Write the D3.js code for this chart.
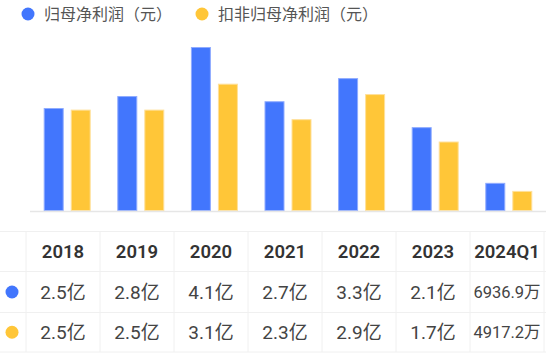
<!DOCTYPE html>
<html>
<head>
<meta charset="utf-8">
<script src="https://cdn.jsdelivr.net/npm/d3@7"></script>
<style>
  body { margin: 0; background: #fff; }
  svg { display: block; font-family: Roboto, "Noto Sans CJK SC", sans-serif; }
</style>
</head>
<body>
<div id="chart"></div>
<script>
// Data (values in 亿)
const years = ["2018", "2019", "2020", "2021", "2022", "2023", "2024Q1"];
const netProfit = [2.57, 2.87, 4.10, 2.74, 3.32, 2.09, 0.6937];
const netProfitExcl = [2.53, 2.53, 3.18, 2.29, 2.92, 1.73, 0.4917];
const netProfitLabels = ["2.5亿", "2.8亿", "4.1亿", "2.7亿", "3.3亿", "2.1亿", "6936.9万"];
const netProfitExclLabels = ["2.5亿", "2.5亿", "3.1亿", "2.3亿", "2.9亿", "1.7亿", "4917.2万"];
const seriesNames = ["归母净利润（元）", "扣非归母净利润（元）"];
const colors = ["#4276fd", "#ffc638"];
const strokes = ["#8fabff", "#ffe09a"];

const width = 550, height = 353;
const svg = d3.select("#chart").append("svg")
    .attr("width", width)
    .attr("height", height);

// Legend
const legendX = [28, 202];
const legend = svg.append("g");
seriesNames.forEach(function(name, i) {
  legend.append("circle")
    .attr("cx", legendX[i])
    .attr("cy", 14)
    .attr("r", 6.5)
    .attr("fill", colors[i]);
  legend.append("text")
    .attr("x", legendX[i] + 16)
    .attr("y", 14)
    .attr("dy", "0.36em")
    .attr("font-size", 16)
    .attr("fill", "#555")
    .text(name);
});

// Scales
const x = d3.scaleBand()
    .domain(years)
    .range([30.4, 545.6]);

const xSub = d3.scaleBand()
    .domain([0, 1])
    .range([13.3, 60.3])
    .paddingInner(0.26);

const y = d3.scaleLinear()
    .domain([0, 4.1])
    .range([210.5, 47]);

// Bars
const series = [netProfit, netProfitExcl];
series.forEach(function(values, s) {
  svg.append("g")
    .selectAll("rect")
    .data(values)
    .join("rect")
      .attr("x", (d, i) => x(years[i]) + xSub(s) + 0.5)
      .attr("y", d => y(d) + 0.5)
      .attr("width", xSub.bandwidth() - 1)
      .attr("height", d => y(0) - y(d) - 0.5)
      .attr("fill", colors[s])
      .attr("stroke", strokes[s])
      .attr("stroke-width", 1);
});

// Baseline
svg.append("line")
  .attr("x1", 30).attr("x2", 546)
  .attr("y1", 211.5).attr("y2", 211.5)
  .attr("stroke", "#e6e6e6")
  .attr("stroke-width", 1.5);

// Table
const colX = d3.scaleBand()
    .domain(years)
    .range([26, 544]);
const rowY = [231.5, 271.5, 312.5, 352];
const table = svg.append("g");
const lineColor = "#f0f0f0";

rowY.forEach(function(yy) {
  table.append("line")
    .attr("x1", 0).attr("x2", 546)
    .attr("y1", yy).attr("y2", yy)
    .attr("stroke", lineColor);
});
colX.domain().concat(["end"]).forEach(function(yr) {
  const xx = yr === "end" ? 544 : colX(yr);
  table.append("line")
    .attr("x1", xx).attr("x2", xx)
    .attr("y1", rowY[0]).attr("y2", rowY[3])
    .attr("stroke", lineColor);
});

// Header row
table.selectAll(".head")
  .data(years)
  .join("text")
    .attr("class", "head")
    .attr("x", d => colX(d) + colX.bandwidth() / 2)
    .attr("y", (rowY[0] + rowY[1]) / 2)
    .attr("dy", "0.36em")
    .attr("text-anchor", "middle")
    .attr("font-size", 18.5)
    .attr("font-weight", 600)
    .attr("fill", "#333")
    .text(d => d);

// Value rows
[netProfitLabels, netProfitExclLabels].forEach(function(labels, r) {
  const cy = (rowY[r + 1] + rowY[r + 2]) / 2;
  table.append("circle")
    .attr("cx", 12)
    .attr("cy", cy)
    .attr("r", 6.5)
    .attr("fill", colors[r]);
  table.append("g")
    .selectAll("text")
    .data(labels)
    .join("text")
      .attr("x", (d, i) => colX(years[i]) + colX.bandwidth() / 2)
      .attr("y", cy)
      .attr("dy", "0.36em")
      .attr("text-anchor", "middle")
      .attr("font-size", d => d.length > 5 ? 16.5 : 19)
      .attr("fill", "#444")
      .text(d => d);
});
</script>
</body>
</html>
